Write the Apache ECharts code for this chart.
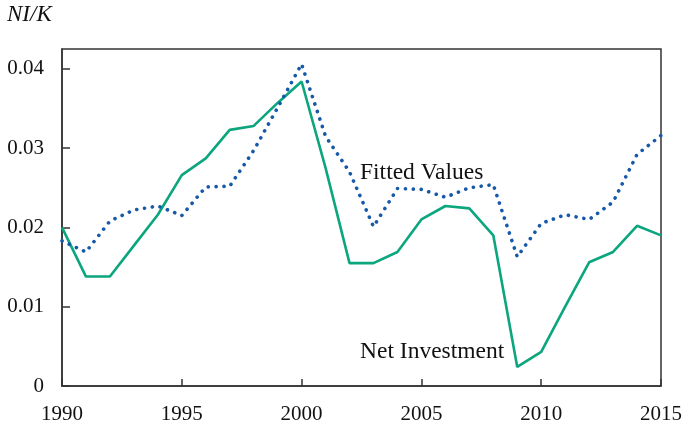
<!DOCTYPE html>
<html>
<head>
<meta charset="utf-8">
<script src="https://cdn.jsdelivr.net/npm/echarts@6/dist/echarts.min.js"></script>
<style>
  html, body { margin: 0; padding: 0; background: #fff; }
  #chart { width: 684px; height: 429px; }
</style>
</head>
<body>
<div id="chart"></div>
<script>
var years = [1990, 1991, 1992, 1993, 1994, 1995, 1996, 1997, 1998, 1999, 2000, 2001, 2002,
  2003, 2004, 2005, 2006, 2007, 2008, 2009, 2010, 2011, 2012, 2013, 2014, 2015]
// solid green line
var netInvestment = [0.0200, 0.0138, 0.0138, 0.0177, 0.0216, 0.0266, 0.0287, 0.0323, 0.0328, 0.0357,
  0.0384, 0.0275, 0.0155, 0.0155, 0.0169, 0.0210, 0.0227, 0.0224, 0.0190, 0.0024,
  0.0043, 0.0100, 0.0156, 0.0169, 0.0202, 0.0190]
// dotted blue line
var fittedValues = [0.0183, 0.0169, 0.0208, 0.0222, 0.0227, 0.0215, 0.0251, 0.0252, 0.0297, 0.0351,
  0.0406, 0.0315, 0.0270, 0.0201, 0.0249, 0.0248, 0.0238, 0.0250, 0.0254, 0.0163,
  0.0205, 0.0216, 0.0210, 0.0232, 0.0292, 0.0316]

var font = '"Liberation Serif", "DejaVu Serif", serif'

function pairs (ys) {
  return years.map(function (y, i) { return [y, ys[i]] })
}

var chart = echarts.init(document.getElementById('chart'))
var option = {
  animation: false,
  backgroundColor: '#fff',
  grid: {
    left: 62,
    right: 23,
    top: 49,
    bottom: 43,
    outerBoundsMode: 'none',
    containLabel: false,
    show: true,
    borderColor: '#333',
    borderWidth: 1.5
  },
  xAxis: {
    type: 'value',
    min: 1990,
    max: 2015,
    interval: 5,
    axisLine: { show: true, lineStyle: { color: '#333', width: 1.5 } },
    axisTick: { show: true, inside: true, length: 7, lineStyle: { color: '#333', width: 1.5 } },
    axisLabel: {
      color: '#111',
      fontFamily: font,
      fontSize: 21,
      margin: 18,
      formatter: function (v) { return String(v) }
    },
    splitLine: { show: false }
  },
  yAxis: {
    type: 'value',
    min: 0,
    max: 0.0425,
    interval: 0.01,
    axisLine: { show: true, lineStyle: { color: '#333', width: 1.5 } },
    axisTick: { show: true, inside: true, length: 8, lineStyle: { color: '#333', width: 1.5 } },
    axisLabel: {
      color: '#111',
      fontFamily: font,
      fontSize: 21,
      margin: 18,
      showMaxLabel: false,
      formatter: function (v) { return v === 0 ? '0' : v.toFixed(2) }
    },
    splitLine: { show: false }
  },
  graphic: [
    { type: 'text', left: 7, top: 3, style: { text: 'NI/K', fontFamily: font, fontStyle: 'italic', fontSize: 23, fill: '#111' } },
    { type: 'text', left: 360, top: 161, style: { text: 'Fitted Values', fontFamily: font, fontSize: 23.5, fill: '#111' } },
    { type: 'text', left: 360, top: 340, style: { text: 'Net Investment', fontFamily: font, fontSize: 23.5, fill: '#111' } }
  ],
  series: [
    {
      name: 'Net Investment',
      type: 'line',
      data: pairs(netInvestment),
      symbol: 'none',
      lineStyle: { color: '#0BA57E', width: 2.6 }
    },
    {
      name: 'Fitted Values',
      type: 'line',
      data: pairs(fittedValues),
      symbol: 'none',
      lineStyle: { color: '#1659A8', width: 3.6, type: [0.1, 7.8], cap: 'round' }
    }
  ]
}
chart.setOption(option)
</script>
</body>
</html>
